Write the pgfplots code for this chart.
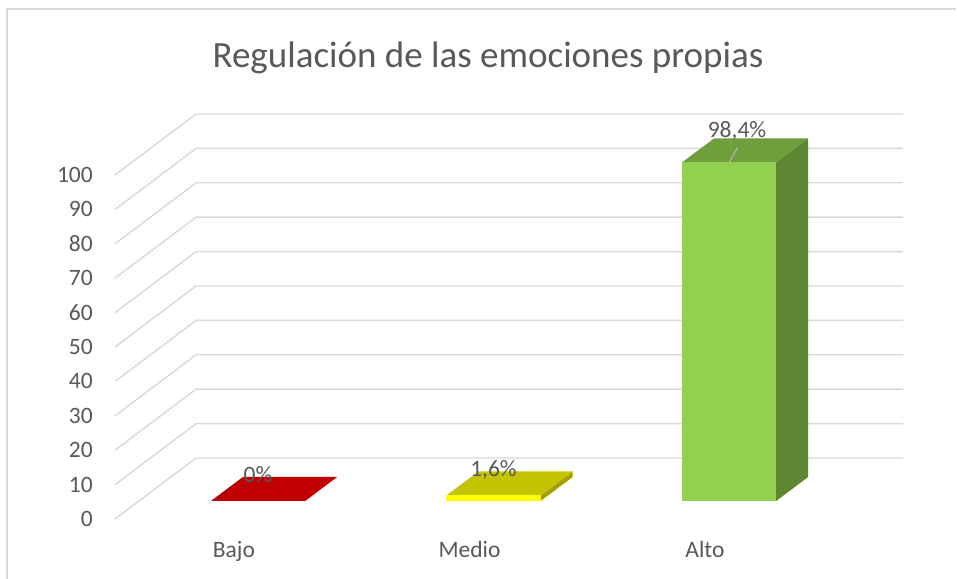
\documentclass[border=0pt]{standalone}
\usepackage{pgfplots}
\pgfplotsset{compat=1.18}
\usepackage{fontspec}
\setmainfont{Carlito}
\definecolor{txt}{HTML}{595959}
\definecolor{gridc}{HTML}{D9D9D9}
\definecolor{bajo}{HTML}{C00000}
\definecolor{medfront}{HTML}{FFFF00}
\definecolor{medtop}{HTML}{C4C400}
\definecolor{medside}{HTML}{A0A000}
\definecolor{altfront}{HTML}{92D050}
\definecolor{alttop}{HTML}{6E9F3B}
\definecolor{altside}{HTML}{5F8633}
\tikzset{lbl/.style={text=txt, inner sep=0pt, font=\fontsize{23.5bp}{28bp}\selectfont},
         gl/.style={draw=gridc, line width=1.4bp, mark=none}}
\begin{document}
\begin{tikzpicture}
\useasboundingbox (0,0) rectangle (957bp,579bp);
\fill[white] (0,0) rectangle (957bp,579bp);
\draw[gridc, line width=1.6bp] (7bp,0bp) -- (7bp,570bp) -- (956bp,570bp);
\begin{axis}[
  x=235.5bp, y=3.44bp,
  xmin=-1.09554, xmax=2.96815, ymin=-22.6744, ymax=145.6395,
  scale only axis, hide axis, clip=false,
  anchor=south west, at={(0bp,0bp)},
]
% back wall gridlines (front diagonal -> back wall)
\addplot[gl] coordinates {(-0.607,-5.23) (-0.263,12.5) (2.739,12.5)};
\addplot[gl] coordinates {(-0.607,4.77) (-0.263,22.5) (2.739,22.5)};
\addplot[gl] coordinates {(-0.607,14.77) (-0.263,32.5) (2.739,32.5)};
\addplot[gl] coordinates {(-0.607,24.77) (-0.263,42.5) (2.739,42.5)};
\addplot[gl] coordinates {(-0.607,34.77) (-0.263,52.5) (2.739,52.5)};
\addplot[gl] coordinates {(-0.607,44.77) (-0.263,62.5) (2.739,62.5)};
\addplot[gl] coordinates {(-0.607,54.77) (-0.263,72.5) (2.739,72.5)};
\addplot[gl] coordinates {(-0.607,64.77) (-0.263,82.5) (2.739,82.5)};
\addplot[gl] coordinates {(-0.607,74.77) (-0.263,92.5) (2.739,92.5)};
\addplot[gl] coordinates {(-0.607,84.77) (-0.263,102.5) (2.739,102.5)};
\addplot[gl] coordinates {(-0.607,94.77) (-0.263,112.5) (2.739,112.5)};
% tick labels
\node[lbl, anchor=east] at (axis cs:-0.7006,-5.23) {0};
\node[lbl, anchor=east] at (axis cs:-0.7006,4.77) {10};
\node[lbl, anchor=east] at (axis cs:-0.7006,14.77) {20};
\node[lbl, anchor=east] at (axis cs:-0.7006,24.77) {30};
\node[lbl, anchor=east] at (axis cs:-0.7006,34.77) {40};
\node[lbl, anchor=east] at (axis cs:-0.7006,44.77) {50};
\node[lbl, anchor=east] at (axis cs:-0.7006,54.77) {60};
\node[lbl, anchor=east] at (axis cs:-0.7006,64.77) {70};
\node[lbl, anchor=east] at (axis cs:-0.7006,74.77) {80};
\node[lbl, anchor=east] at (axis cs:-0.7006,84.77) {90};
\node[lbl, anchor=east] at (axis cs:-0.7006,94.77) {100};
% Bajo: 0
\addplot[fill=bajo, draw=none, mark=none] coordinates {(-0.2,0) (0.2,0) (0.336,6.98) (-0.064,6.98)} -- cycle;
% Medio: 1.6
\addplot[fill=medside, draw=none, mark=none] coordinates {(1.2,0) (1.336,6.98) (1.336,8.58) (1.2,1.6)} -- cycle;
\addplot[fill=medtop, draw=none, mark=none] coordinates {(0.8,1.6) (1.2,1.6) (1.336,8.58) (0.936,8.58)} -- cycle;
\addplot[fill=medfront, draw=none, mark=none] coordinates {(0.8,0) (1.2,0) (1.2,1.6) (0.8,1.6)} -- cycle;
% Alto: 98.4
\addplot[fill=altside, draw=none, mark=none] coordinates {(2.2,0) (2.336,6.98) (2.336,105.38) (2.2,98.4)} -- cycle;
\addplot[fill=alttop, draw=none, mark=none] coordinates {(1.8,98.4) (2.2,98.4) (2.336,105.38) (1.936,105.38)} -- cycle;
\addplot[fill=altfront, draw=none, mark=none] coordinates {(1.8,0) (2.2,0) (2.2,98.4) (1.8,98.4)} -- cycle;
% data labels
\node[lbl, anchor=base] at (axis cs:0,5.52) {0\%};
\node[lbl, anchor=base] at (axis cs:1.0,6.98) {1,6\%};
\node[lbl, anchor=base] at (axis cs:2.034,105.8) {98,4\%};
\draw[gray!60, line width=1.2bp] (axis cs:2.0,98.4) -- (axis cs:2.0357,102.7);
% category labels
\node[lbl, anchor=base] at (axis cs:-0.102,-16.28) {Bajo};
\node[lbl, anchor=base] at (axis cs:0.898,-16.28) {Medio};
\node[lbl, anchor=base] at (axis cs:1.898,-16.28) {Alto};
% title
\node[lbl, anchor=base, font=\fontsize{37bp}{44bp}\selectfont] at (axis cs:0.9766,126.0) {Regulación de las emociones propias};
\end{axis}
\end{tikzpicture}
\end{document}
